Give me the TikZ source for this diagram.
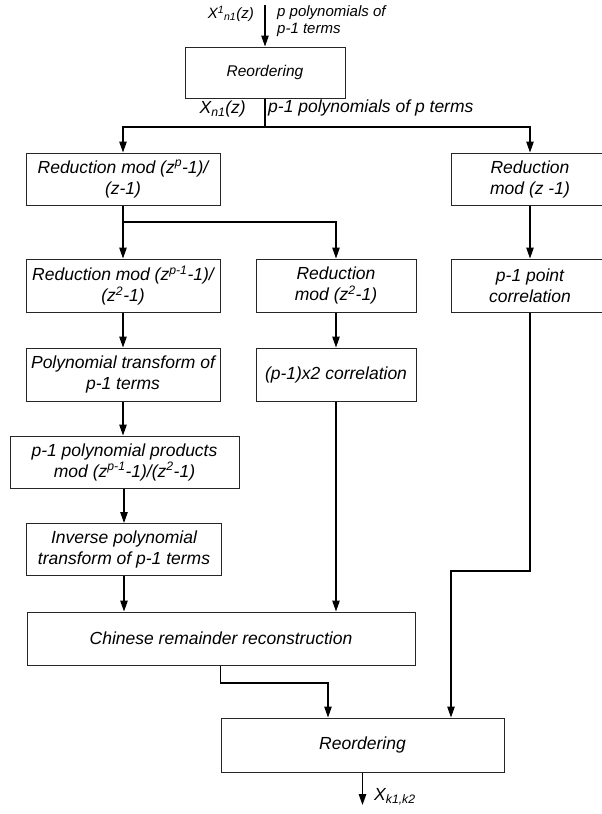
\documentclass[tikz,border=0pt]{standalone}
\usepackage{fontspec}
\setmainfont{Liberation Sans}
\usetikzlibrary{arrows.meta}
\begin{document}
\begin{tikzpicture}[x=1pt,y=-1pt,
  blk/.style={draw=black!85, line width=1pt, inner sep=0pt, align=center,
              font=\itshape\fontsize{17.5}{21}\selectfont},
  flow/.style={line width=1.2pt, -{Triangle[length=11pt,width=7.5pt]}},
  wire/.style={line width=1.2pt},
  lbl/.style={inner sep=0pt, align=left, font=\itshape\fontsize{17.5}{21}\selectfont},
  smalllbl/.style={inner sep=0pt, align=left, font=\itshape\fontsize{15}{17}\selectfont}]
\useasboundingbox (0,0) rectangle (602,814);
\clip (0,0) rectangle (602,814);

% processing blocks
\node[blk, minimum width=160pt, minimum height=51pt, font=\itshape\fontsize{15.5}{19}\selectfont]
  (reo1) at (265,72.5) {Reordering};
\node[blk, minimum width=194pt, minimum height=52pt] (redA) at (123,179)
  {Reduction mod (z\textsuperscript{p}-1)/\\(z-1)};
\node[blk, minimum width=158pt, minimum height=52pt] (redR) at (530,179)
  {Reduction\\mod (z -1)};
\node[blk, minimum width=194pt, minimum height=53pt] (redB) at (123,285.5)
  {Reduction mod (z\textsuperscript{p-1}-1)/\\(z\textsuperscript{2}-1)};
\node[blk, minimum width=160pt, minimum height=53pt] (redC) at (336,285.5)
  {Reduction\\mod (z\textsuperscript{2}-1)};
\node[blk, minimum width=158pt, minimum height=53pt] (corrR) at (530,285.5)
  {p-1 point\\correlation};
\node[blk, minimum width=194pt, minimum height=53pt] (polyT) at (123,374.5)
  {Polynomial transform of\\p-1 terms};
\node[blk, minimum width=160pt, minimum height=53pt] (corr2) at (336,374.5)
  {(p-1)x2 correlation};
\node[blk, minimum width=229pt, minimum height=52pt] (prod) at (124.5,462)
  {p-1 polynomial products\\mod (z\textsuperscript{p-1}-1)/(z\textsuperscript{2}-1)};
\node[blk, minimum width=195pt, minimum height=52pt] (inv) at (124,549.5)
  {Inverse polynomial\\transform of p-1 terms};
\node[blk, minimum width=388pt, minimum height=53pt] (crt) at (221,638.5)
  {Chinese remainder reconstruction};
\node[blk, minimum width=283pt, minimum height=54pt] (reo2) at (362.5,745)
  {Reordering};

% free ends and branch points
\coordinate (in)  at (265,5);
\coordinate (s1)  at (265,127);
\coordinate (s2)  at (123,222);
\coordinate (kR)  at (451,571);
\coordinate (kC)  at (328,683);
\coordinate (out) at (362.5,805);

% signal labels
\node[smalllbl, anchor=east] (lin) at (254,14)
  {X\textsuperscript{1}\textsubscript{n1}(z)};
\node[smalllbl, anchor=west] (lin2) at (277,21) {p polynomials of\\p-1 terms};
\node[lbl, anchor=east] (lmid) at (246,109) {X\textsubscript{n1}(z)};
\node[lbl, anchor=west] (lmid2) at (268,108) {p-1 polynomials of p terms};
\node[lbl, anchor=west] (lout) at (374,797) {X\textsubscript{k1,k2}};

% connectors
\draw[flow] (in) -- (reo1.north);
\draw[wire] (reo1.south) -- (s1);
\draw[flow] (s1) -| (redA.north);
\draw[flow] (s1) -| (redR.north);
\draw[wire] (redA.south) -- (s2);
\draw[flow] (s2) -- (redB.north);
\draw[flow] (s2) -| (redC.north);
\draw[flow] (redB.south) -- (polyT.north);
\draw[flow] (polyT.south) -- (polyT.south |- prod.north);
\draw[flow] (prod.south -| inv.south) -- (inv.north);
\draw[flow] (inv.south) -- (inv.south |- crt.north);
\draw[flow] (redC.south) -- (corr2.north);
\draw[flow] (corr2.south) -- (corr2.south |- crt.north);
\draw[flow] (redR.south) -- (corrR.north);
\draw[flow] (corrR.south) |- (kR) -- (kR |- reo2.north);
\draw[flow] (reo2.west |- crt.south) |- (kC) -- (kC |- reo2.north);
\draw[flow] (reo2.south) -- (out);
\end{tikzpicture}
\end{document}
